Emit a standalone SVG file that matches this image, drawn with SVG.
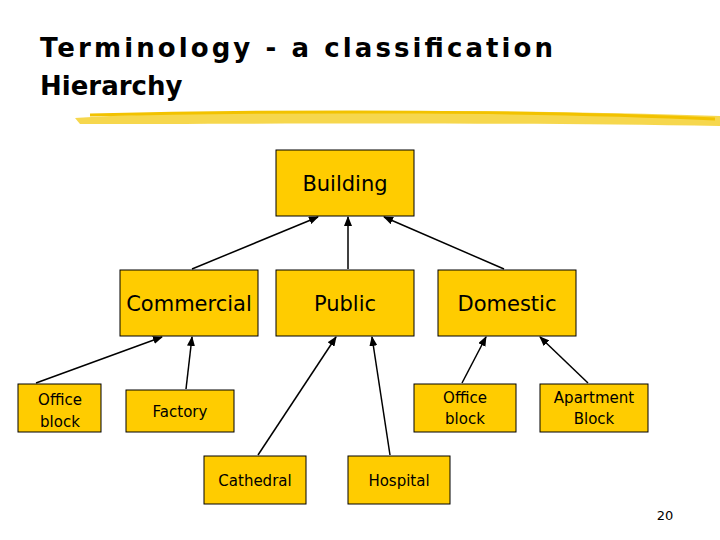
<svg xmlns="http://www.w3.org/2000/svg" width="720" height="540" viewBox="0 0 720 540">
<style>
.b{fill:#FFCC00;stroke:#000;stroke-width:1}
.t{font-family:"DejaVu Sans",sans-serif;fill:#000;text-anchor:middle}
.c line{stroke:#000;stroke-width:1.5;marker-end:url(#a)}
</style>
<defs><marker id="a" markerWidth="10" markerHeight="8" refX="9" refY="4" orient="auto" markerUnits="userSpaceOnUse"><path d="M0,0L10,4L0,8z" fill="#000"/></marker></defs>
<rect width="720" height="540" fill="#fff"/>
<text x="40" y="57" font-family="DejaVu Sans,sans-serif" font-weight="bold" font-size="26" textLength="513">Terminology - a classification</text>
<text x="40" y="95" font-family="DejaVu Sans,sans-serif" font-weight="bold" font-size="26">Hierarchy</text>
<path d="M75,118 C200,110 500,108 720,116 L720,126 C500,122 250,124 80,124 Z" fill="#F5D33A" opacity="0.9"/>
<path d="M90,115 C300,110 550,111 715,119" stroke="#F2C200" stroke-width="3" fill="none"/>
<g class="c">
<line x1="192" y1="269" x2="318" y2="217"/>
<line x1="348" y1="269" x2="348" y2="217"/>
<line x1="504" y1="269" x2="384" y2="217"/>
<line x1="36" y1="383" x2="162" y2="337"/>
<line x1="186" y1="389" x2="192" y2="337"/>
<line x1="258" y1="455" x2="336" y2="337"/>
<line x1="390" y1="455" x2="372" y2="337"/>
<line x1="462" y1="383" x2="486" y2="337"/>
<line x1="588" y1="383" x2="540" y2="337"/>
</g>
<g id="building"><rect class="b" x="276" y="150" width="138" height="66"/><text class="t" x="345" y="191" font-size="21">Building</text></g>
<g id="commercial"><rect class="b" x="120" y="270" width="138" height="66"/><text class="t" x="189" y="311" font-size="21">Commercial</text></g>
<g id="public"><rect class="b" x="276" y="270" width="138" height="66"/><text class="t" x="345" y="311" font-size="21">Public</text></g>
<g id="domestic"><rect class="b" x="438" y="270" width="138" height="66"/><text class="t" x="507" y="311" font-size="21">Domestic</text></g>
<g id="office1"><rect class="b" x="18" y="384" width="83" height="48"/><text class="t" x="60" y="405" font-size="15">Office</text><text class="t" x="60" y="427" font-size="15">block</text></g>
<g id="factory"><rect class="b" x="126" y="390" width="108" height="42"/><text class="t" x="180" y="417" font-size="15">Factory</text></g>
<g id="office2"><rect class="b" x="414" y="384" width="102" height="48"/><text class="t" x="465" y="403" font-size="15">Office</text><text class="t" x="465" y="424" font-size="15">block</text></g>
<g id="apartment"><rect class="b" x="540" y="384" width="108" height="48"/><text class="t" x="594" y="403" font-size="15">Apartment</text><text class="t" x="594" y="424" font-size="15">Block</text></g>
<g id="cathedral"><rect class="b" x="204" y="456" width="102" height="48"/><text class="t" x="255" y="486" font-size="15">Cathedral</text></g>
<g id="hospital"><rect class="b" x="348" y="456" width="102" height="48"/><text class="t" x="399" y="486" font-size="15">Hospital</text></g>
<text x="665" y="520" font-family="DejaVu Sans,sans-serif" font-size="13" text-anchor="middle">20</text>
</svg>
